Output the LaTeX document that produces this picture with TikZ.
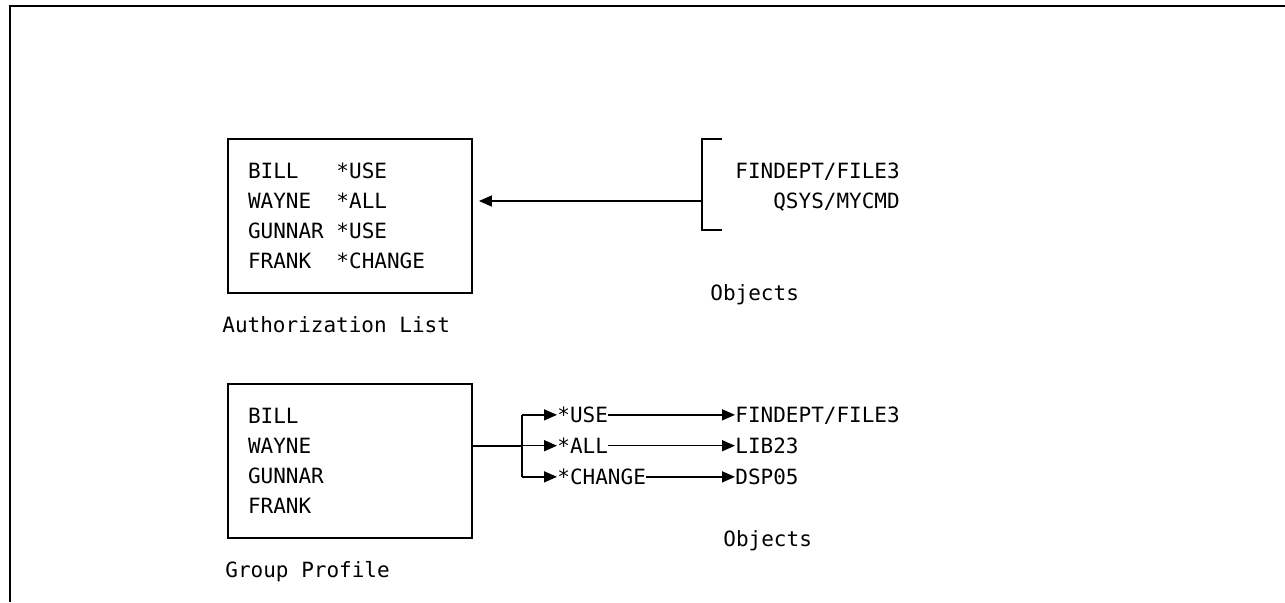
\documentclass[tikz,border=0pt]{standalone}
\usepackage{fontspec}
\newfontfamily\ibmmono{DejaVu Sans Mono}
\usetikzlibrary{arrows.meta}
% user and authority in fixed columns
\newcommand{\aclrow}[2]{\makebox[7\fontcharwd\font`0][l]{#1}#2}

\begin{document}
\begin{tikzpicture}[x=0.5pt, y=-0.5pt, >={Triangle[length=6.5pt,width=5.5pt]},
    font=\ibmmono\fontsize{10.5}{15}\selectfont,
    lbl/.style={inner sep=0pt, anchor=base west},
    usrbox/.style={draw, line width=0.9pt, minimum width=122pt, minimum height=77pt,
      text width=102pt, inner xsep=10pt, inner ysep=0pt, align=left},
    conn/.style={line width=0.75pt}]
  \useasboundingbox (0,0) rectangle (1285,602);
  % page frame
  \draw[line width=1pt] (1285,6) -- (10,6) -- (10,602);

  % authorization list and the objects it secures
  \node[usrbox] (authlist) at (350,216) {\aclrow{BILL}{*USE}\\\aclrow{WAYNE}{*ALL}\\
    \aclrow{GUNNAR}{*USE}\\\aclrow{FRANK}{*CHANGE}};
  \node[lbl] (authname) at (222,332.5) {Authorization List};
  \node[lbl] (objfile) at (735,178) {FINDEPT/FILE3};
  \node[lbl, anchor=base east] (objcmd) at ([yshift=-15pt]objfile.base east) {QSYS/MYCMD};
  \node[lbl] (objlbl) at (710,300.5) {Objects};
  \coordinate (bkt) at (702,201);
  \draw[conn] (722,139) -- (702,139) -- (702,230) -- (722,230);
  \draw[conn,->,shorten >=3pt] (bkt) -- (authlist.east |- bkt);

  % group profile
  \node[usrbox] (grpprof) at (350,461) {BILL\\WAYNE\\GUNNAR\\FRANK};
  \node[lbl] (grpname) at (225,577.5) {Group Profile};
  \node[lbl] (ruse) at (557,422.5) {*USE};
  \node[lbl] (rall) at (557,453.5) {*ALL};
  \node[lbl] (rchg) at (557,484.5) {*CHANGE};
  \node[lbl] (objf3) at (735,422.5) {FINDEPT/FILE3};
  \node[lbl] (objlib) at (735,453.5) {LIB23};
  \node[lbl] (objdsp) at (735,484.5) {DSP05};
  \node[lbl] (objlbl2) at (723,546.5) {Objects};
  \coordinate (fork) at (522,446);
  \draw[conn] (grpprof.east |- fork) -- (fork);
  \draw[conn] (fork |- ruse) -- (fork |- rchg);
  \foreach \r/\o in {ruse/objf3, rall/objlib, rchg/objdsp} {
    \draw[conn,->] (fork |- \r) -- (\r.west);
    \draw[conn,->] (\r.east) -- (\r.east -| \o.west);
  }
\end{tikzpicture}
\end{document}
